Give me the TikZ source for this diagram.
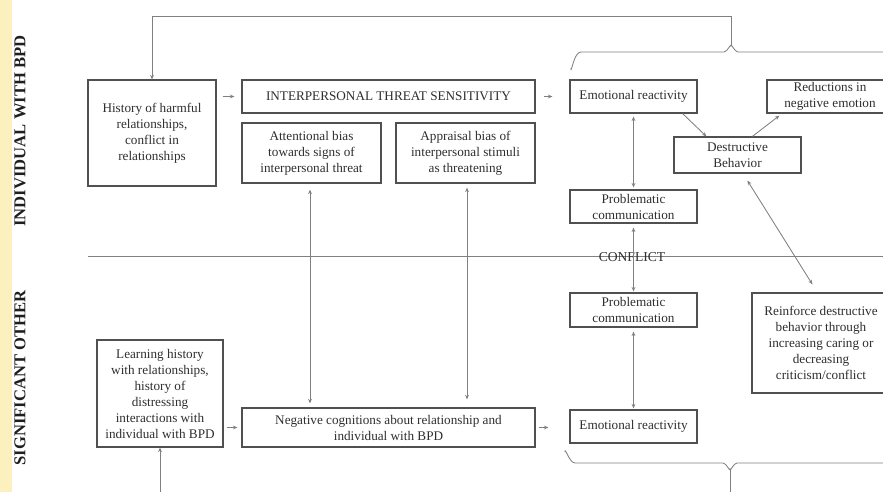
\documentclass[tikz,border=0pt]{standalone}
\usepackage{fontspec}
\setmainfont{Liberation Serif}
\usetikzlibrary{arrows.meta}

\definecolor{txtgray}{HTML}{2E2E2E}
\definecolor{boxgray}{HTML}{505050}
\definecolor{linegray}{HTML}{808080}
\definecolor{stripyellow}{HTML}{FCF0BE}

\tikzset{
  box/.style={draw=boxgray, line width=1.2pt, align=center, text=txtgray,
    inner sep=0pt, font=\fontsize{13.2}{16}\selectfont},
  arr/.style={draw=linegray, line width=0.85pt, -{Stealth[length=4.5pt,width=3.8pt]}},
  dbl/.style={draw=linegray, line width=0.85pt, {Stealth[length=4.5pt,width=3.8pt]}-{Stealth[length=4.5pt,width=3.8pt]}},
  plain/.style={draw=linegray, line width=0.85pt},
  side/.style={rotate=90, font=\bfseries\fontsize{16.6}{18}\selectfont, text=black!88},
}

\begin{document}
\begin{tikzpicture}[x=1pt, y=-1pt]
\useasboundingbox (0,0) rectangle (883,492);

% yellow margin strip and row titles
\fill[stripyellow] (0,0) rectangle (12,492);
\node[side] (lblA) at (20,131) {INDIVIDUAL WITH BPD};
\node[side] (lblB) at (20,378) {SIGNIFICANT OTHER};

% boxes, individual with BPD
\node[box, minimum width=128pt, minimum height=106pt] (hist) at (152,133)
  {History of harmful\\relationships,\\conflict in\\relationships};
\node[box, minimum width=293pt, minimum height=33pt] (its) at (388.5,96.5)
  {INTERPERSONAL THREAT SENSITIVITY};
\node[box, minimum width=139pt, minimum height=60pt] (att) at (311.5,153)
  {Attentional bias\\towards signs of\\interpersonal threat};
\node[box, minimum width=139pt, minimum height=60pt] (app) at (465.5,153)
  {Appraisal bias of\\interpersonal stimuli\\as threatening};
\node[box, minimum width=127pt, minimum height=33pt] (emoT) at (633.5,96.5)
  {Emotional reactivity};
\node[box, minimum width=126pt, minimum height=33pt] (red) at (830,96.5)
  {Reductions in\\negative emotion};
\node[box, minimum width=127pt, minimum height=36pt] (dest) at (737.5,155)
  {Destructive\\Behavior};
\node[box, minimum width=127pt, minimum height=33pt] (probT) at (633.5,206.5)
  {Problematic\\communication};

% boxes, significant other
\node[box, minimum width=127pt, minimum height=34pt] (probB) at (633.5,310)
  {Problematic\\communication};
\node[box, minimum width=138pt, minimum height=100pt] (rein) at (821,343)
  {Reinforce destructive\\behavior through\\increasing caring or\\decreasing\\criticism/conflict};
\node[box, minimum width=126pt, minimum height=107pt] (learn) at (160,393.5)
  {Learning history\\with relationships,\\history of\\distressing\\interactions with\\individual with BPD};
\node[box, minimum width=293pt, minimum height=39pt] (negc) at (388.5,427.5)
  {Negative cognitions about relationship and\\individual with BPD};
\node[box, minimum width=127pt, minimum height=33pt] (emoB) at (633.5,426.5)
  {Emotional reactivity};

% separator between the two rows
\coordinate (sepL) at (88,256);
\coordinate (sepR) at (890,256);
\draw[plain] (sepL) -- (sepR);
\node[text=txtgray, font=\fontsize{13.6}{16}\selectfont] (conf) at (632,257) {CONFLICT};

% braces
\coordinate (tipT) at (731,46);
\coordinate (topC) at (731,16);
\draw[plain] (571,68) to[out=-90,in=180] (581,52) -- (724,52) to[out=0,in=90] (tipT)
             to[out=90,in=180] (738,52) -- (890,52);
\coordinate (tipB) at (730,469);
\coordinate (botC) at (730,495);
\draw[plain] (565,452) to[out=90,in=180] (575,463) -- (723,463) to[out=0,in=-90] (tipB)
             to[out=-90,in=180] (737,463) -- (890,463);
\draw[plain] (tipB) -- (botC);

% feedback loop into history
\draw[arr] (tipT) -- (topC) -| (hist.north);
\coordinate (lb) at (160,495);
\draw[arr] (lb) -- (learn.south);

% short forward arrows
\draw[arr] ([xshift=6pt]hist.east |- its.west) -- ([xshift=-7pt]its.west);
\draw[arr] ([xshift=8pt]its.east) -- ([xshift=-17pt]emoT.west);
\draw[arr] ([xshift=3pt]learn.east |- negc.west) -- ([xshift=-4pt]negc.west);
\draw[arr] ([xshift=3pt]negc.east) -- ([xshift=-21pt]emoB.west |- negc.east);

% biases linked to negative cognitions
\draw[dbl] ([xshift=-1.5pt,yshift=-6pt]att.south) -- ([xshift=-1.5pt,yshift=4pt]att.south |- negc.north);
\draw[dbl] ([xshift=1.5pt,yshift=-4pt]app.south) -- ([xshift=1.5pt,yshift=8pt]app.south |- negc.north);

% conflict cycle
\draw[dbl] ([yshift=-3pt]emoT.south) -- ([yshift=2pt]probT.north);
\draw[dbl] ([yshift=-4pt]probT.south) -- ([yshift=1pt]probB.north);
\draw[dbl] ([yshift=-4pt]probB.south) -- ([yshift=1pt]emoB.north);
\draw[arr] ([xshift=-15pt]emoT.south east) -- ([xshift=33pt]dest.north west);
\draw[arr] ([xshift=79pt]dest.north west) -- ([xshift=13pt,yshift=-2pt]red.south west);
\draw[dbl] ([xshift=74pt,yshift=-7pt]dest.south west) -- ([xshift=61pt,yshift=8pt]rein.north west);
\end{tikzpicture}
\end{document}
